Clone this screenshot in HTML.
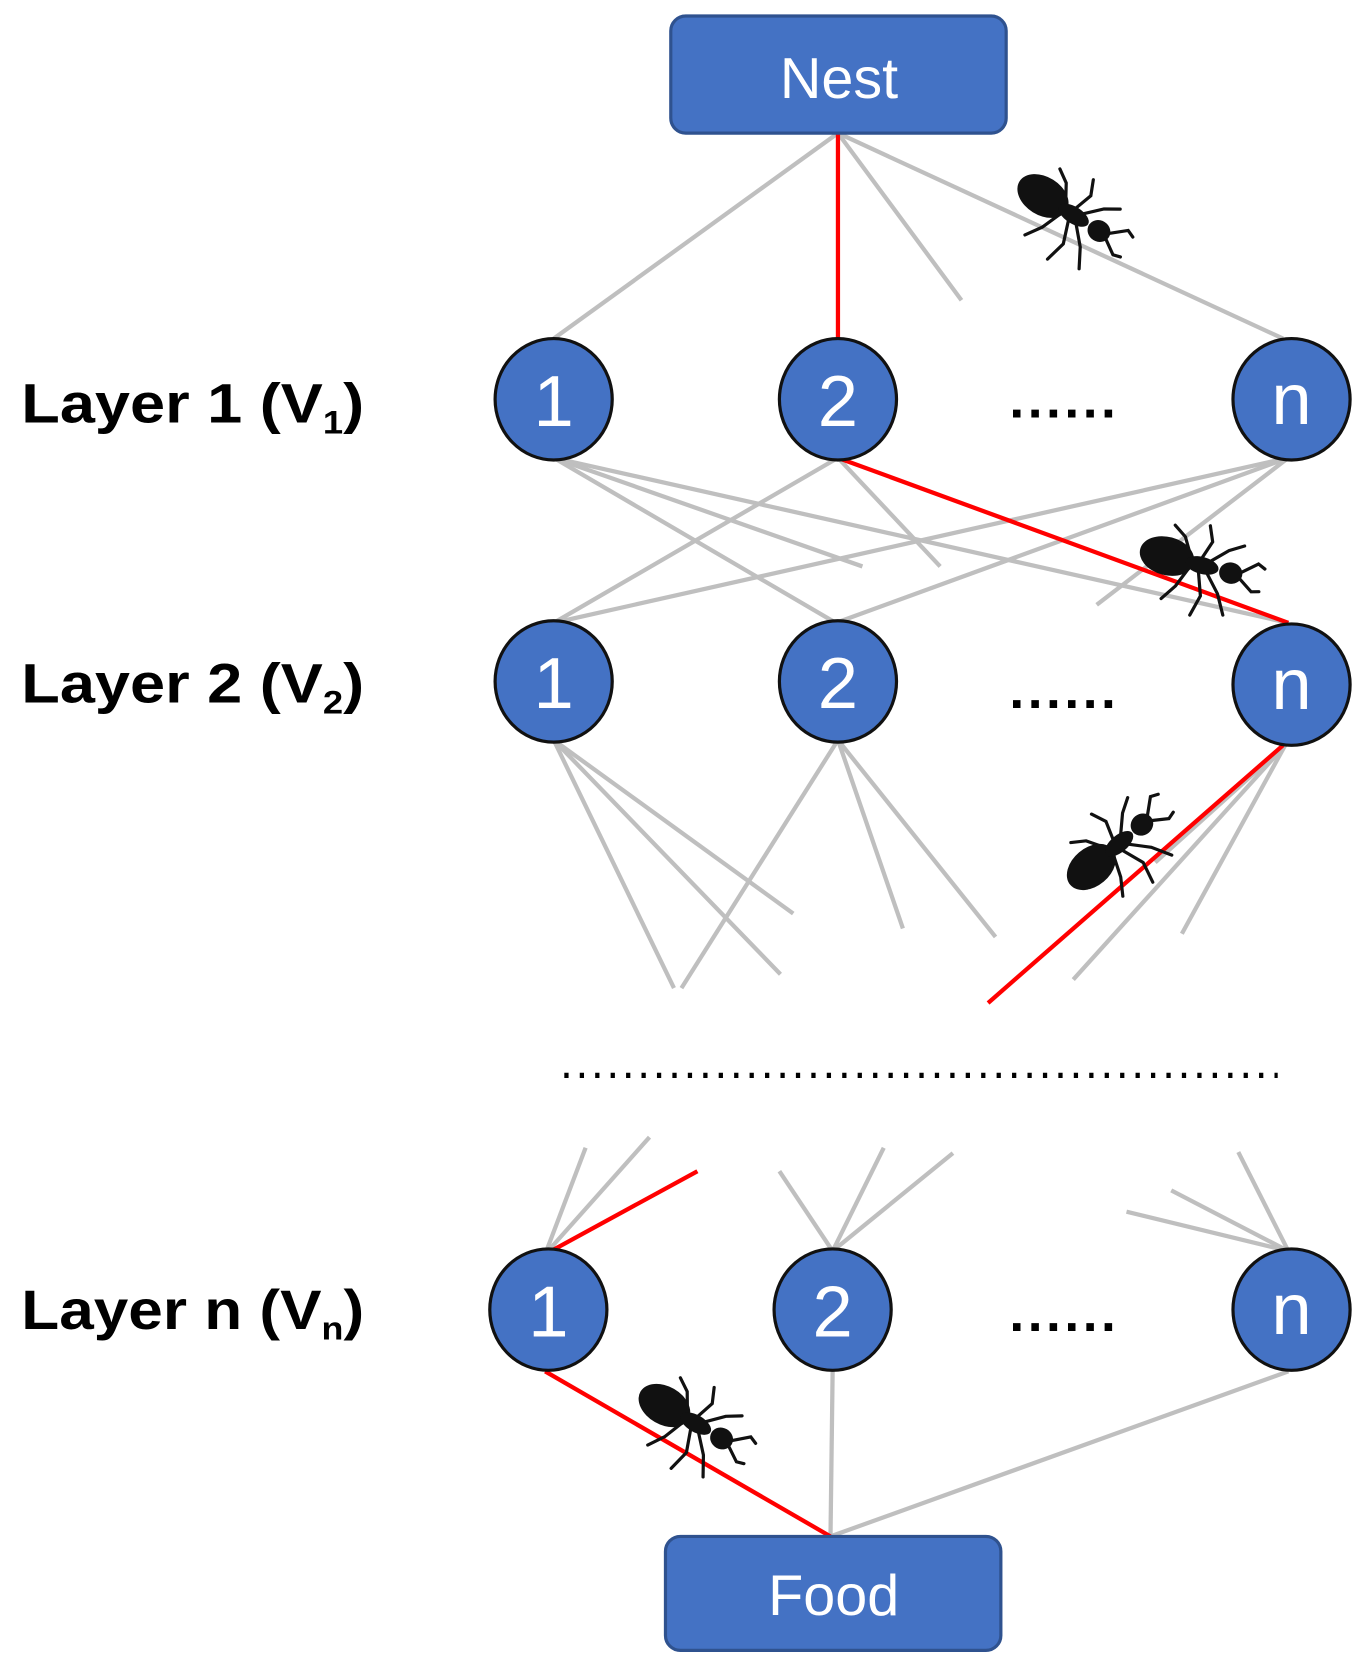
<!DOCTYPE html>
<html><head><style>html,body{margin:0;padding:0;background:#fff;}svg{display:block}</style></head>
<body>
<svg width="1365" height="1661" viewBox="0 0 1282 1560" preserveAspectRatio="none" xmlns="http://www.w3.org/2000/svg">
<defs>
<g id="ant">
 <g stroke="#111" stroke-width="3" fill="none" stroke-linecap="round">
  <path d="M-5,0 L-15,25 L-25,40"/><path d="M0,0 L10,28 L5,48"/><path d="M5,0 L25,22 L35,40"/>
  <path d="M-5,0 L-18,-22 L-30,-30"/><path d="M0,0 L8,-24 L2,-38"/><path d="M5,0 L25,-20 L38,-28"/>
  <path d="M40,-2 L55,-15 L62,-12"/><path d="M40,2 L55,12 L62,10"/>
 </g>
 <ellipse cx="-30" cy="0" rx="26" ry="18" fill="#111"/>
 <ellipse cx="4" cy="0" rx="16" ry="8" fill="#111"/>
 <ellipse cx="32" cy="0" rx="11" ry="10" fill="#111"/>
</g>
</defs>
<g stroke="#BFBFBF" stroke-width="4" fill="none">
 <line x1="787" y1="125" x2="520" y2="318"/><line x1="787" y1="125" x2="903" y2="282"/><line x1="787" y1="125" x2="1205" y2="318"/>
 <line x1="520" y1="430" x2="810" y2="532"/><line x1="520" y1="430" x2="785" y2="585"/><line x1="520" y1="430" x2="1210" y2="585"/>
 <line x1="787" y1="430" x2="520" y2="585"/><line x1="787" y1="430" x2="883" y2="532"/>
 <line x1="1210" y1="430" x2="520" y2="585"/><line x1="1210" y1="430" x2="785" y2="585"/><line x1="1210" y1="430" x2="1030" y2="568"/>
 <line x1="520" y1="695" x2="633" y2="928"/><line x1="520" y1="695" x2="733" y2="915"/><line x1="520" y1="695" x2="745" y2="858"/>
 <line x1="787" y1="695" x2="640" y2="928"/><line x1="787" y1="695" x2="848" y2="872"/><line x1="787" y1="695" x2="935" y2="880"/>
 <line x1="1207" y1="700" x2="1008" y2="920"/><line x1="1207" y1="700" x2="1110" y2="877"/><line x1="1207" y1="700" x2="1085" y2="810"/>
 <line x1="512" y1="1178" x2="550" y2="1078"/><line x1="512" y1="1178" x2="610" y2="1068"/>
 <line x1="782" y1="1175" x2="732" y2="1100"/><line x1="782" y1="1175" x2="830" y2="1078"/><line x1="782" y1="1175" x2="895" y2="1083"/>
 <line x1="1210" y1="1175" x2="1163" y2="1082"/><line x1="1210" y1="1175" x2="1100" y2="1118"/><line x1="1210" y1="1175" x2="1058" y2="1138"/>
 <line x1="782" y1="1288" x2="780" y2="1443"/><line x1="1210" y1="1288" x2="780" y2="1443"/>
</g>
<g stroke="#FF0000" stroke-width="4">
 <line x1="787" y1="125" x2="787" y2="318"/>
 <line x1="787" y1="430" x2="1210" y2="585"/>
 <line x1="1205" y1="700" x2="928" y2="942"/>
 <line x1="512" y1="1178" x2="655" y2="1100"/>
 <line x1="512" y1="1288" x2="780" y2="1443"/>
</g>
<g fill="#4472C4" stroke="#2F528F" stroke-width="3">
 <rect x="630" y="15" width="315" height="110" rx="14"/>
 <rect x="625" y="1443" width="315" height="107" rx="14"/>
</g>
<g fill="#4472C4" stroke="#111" stroke-width="3">
 <ellipse cx="520" cy="375" rx="55" ry="57"/><ellipse cx="787" cy="375" rx="55" ry="57"/><ellipse cx="1213" cy="375" rx="55" ry="57"/>
 <ellipse cx="520" cy="640" rx="55" ry="57"/><ellipse cx="787" cy="640" rx="55" ry="57"/><ellipse cx="1213" cy="643" rx="55" ry="57"/>
 <ellipse cx="515" cy="1230" rx="55" ry="57"/><ellipse cx="782" cy="1230" rx="55" ry="57"/><ellipse cx="1213" cy="1230" rx="55" ry="57"/>
</g>
<g font-family="Liberation Sans, sans-serif" fill="#fff" text-anchor="middle" font-size="68">
 <text x="788" y="92" font-size="54">Nest</text>
 <text x="783" y="1517" font-size="54">Food</text>
 <text x="520" y="400">1</text><text x="787" y="400">2</text><text x="1213" y="398">n</text>
 <text x="520" y="665">1</text><text x="787" y="665">2</text><text x="1213" y="666">n</text>
 <text x="515" y="1255">1</text><text x="782" y="1255">2</text><text x="1213" y="1253">n</text>
</g>
<g font-family="Liberation Sans, sans-serif" fill="#000" font-weight="bold" font-size="52">
 <text x="20" y="397" textLength="322" lengthAdjust="spacingAndGlyphs">Layer 1 (V<tspan font-size="30" dy="10">1</tspan><tspan dy="-10">)</tspan></text>
 <text x="20" y="660" textLength="322" lengthAdjust="spacingAndGlyphs">Layer 2 (V<tspan font-size="30" dy="10">2</tspan><tspan dy="-10">)</tspan></text>
 <text x="20" y="1248" textLength="322" lengthAdjust="spacingAndGlyphs">Layer n (V<tspan font-size="30" dy="10">n</tspan><tspan dy="-10">)</tspan></text>
 <text x="948" y="392" font-size="50" textLength="100" lengthAdjust="spacing">......</text>
 <text x="948" y="665" font-size="50" textLength="100" lengthAdjust="spacing">......</text>
 <text x="948" y="1250" font-size="50" textLength="100" lengthAdjust="spacing">......</text>
</g>
<line x1="530" y1="1010" x2="1200" y2="1010" stroke="#000" stroke-width="5" stroke-dasharray="4,10.5"/>
<use href="#ant" transform="translate(1005,200) rotate(32)"/>
<use href="#ant" transform="translate(1125,530) rotate(15)"/>
<use href="#ant" transform="translate(1048,795) rotate(-40)"/>
<use href="#ant" transform="translate(650,1335) rotate(30)"/>
</svg>
</body></html>
